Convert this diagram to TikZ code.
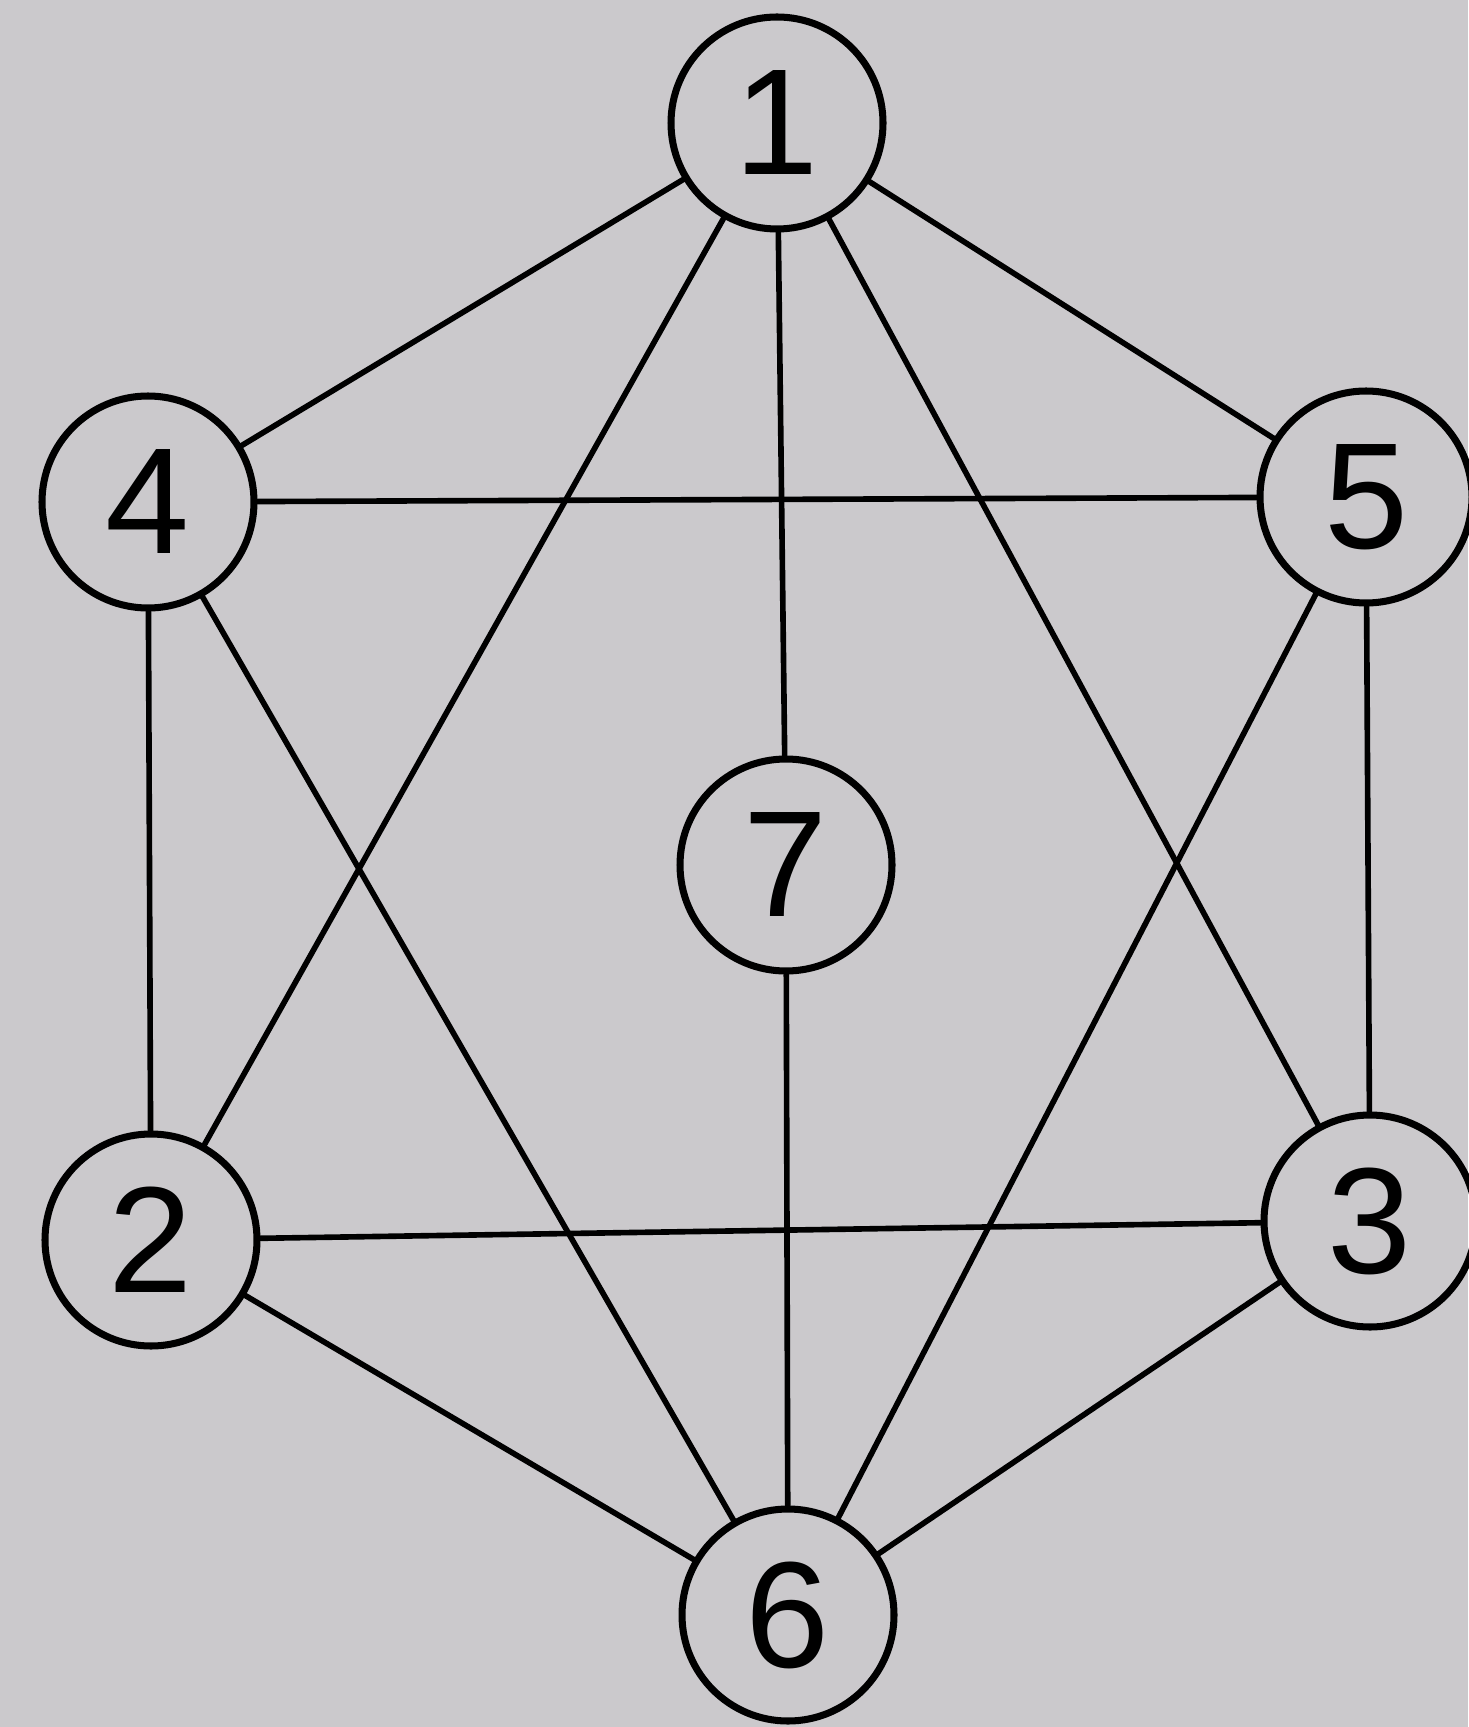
\documentclass[tikz,border=0pt]{standalone}
\usepackage{fontspec}
\setmainfont{Liberation Sans}
\usepackage{xcolor}
\usepackage{tikz}
\definecolor{paper}{RGB}{203,201,204}

\begin{document}
\begin{tikzpicture}[line cap=round, line join=round,
		vertex/.style={draw, circle, line width=2pt, minimum size=2.12cm, inner sep=0pt,
			font=\fontsize{43}{43}\selectfont},
		edge/.style={line width=1.6pt}]
		\fill[paper] (0,0) rectangle (14.68,-17.27);
		\useasboundingbox (0,0) rectangle (14.68,-17.27);
		
		\node[vertex] (v1) at (7.77,-1.23) {1};
		\node[vertex] (v4) at (1.48,-5.02) {4};
		\node[vertex] (v5) at (13.66,-4.97) {5};
		\node[vertex] (v7) at (7.86,-8.65) {7};
		\node[vertex] (v2) at (1.51,-12.40) {2};
		\node[vertex] (v3) at (13.70,-12.21) {3};
		\node[vertex] (v6) at (7.88,-16.15) {6};
		
		\draw[edge] (v1) -- (v4);
		\draw[edge] (v1) -- (v5);
		\draw[edge] (v1) -- (v2);
		\draw[edge] (v1) -- (v3);
		\draw[edge] (v1) -- (v7);
		\draw[edge] (v4) -- (v5);
		\draw[edge] (v4) -- (v2);
		\draw[edge] (v4) -- (v6);
		\draw[edge] (v5) -- (v3);
		\draw[edge] (v5) -- (v6);
		\draw[edge] (v2) -- (v3);
		\draw[edge] (v2) -- (v6);
		\draw[edge] (v3) -- (v6);
		\draw[edge] (v7) -- (v6);
	\end{tikzpicture}
\end{document}
